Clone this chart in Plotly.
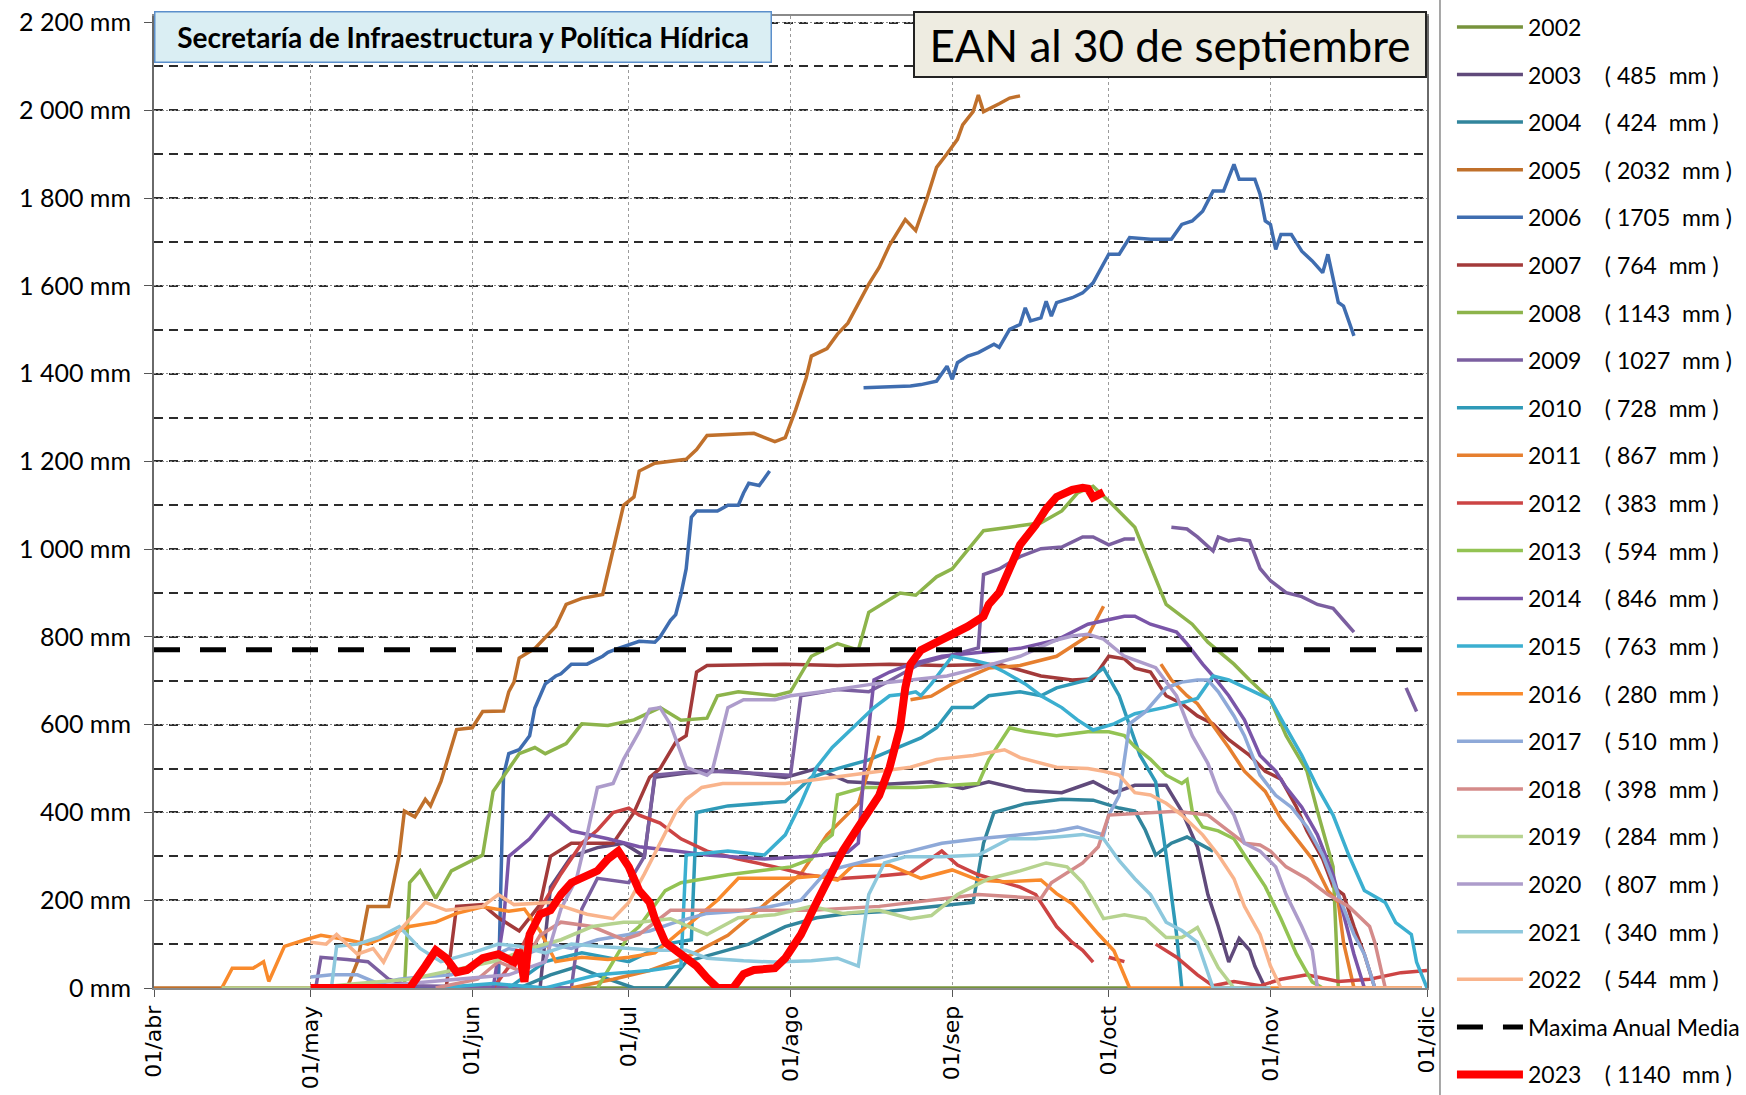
import plotly.graph_objects as go

YEAR = "2023"  # dummy year: only day/month are plotted

MONTH_TICKS = ["04-01", "05-01", "06-01", "07-01", "08-01", "09-01", "10-01", "11-01", "12-01"]
MONTH_LABELS = ["01/abr", "01/may", "01/jun", "01/jul", "01/ago", "01/sep", "01/oct", "01/nov", "01/dic"]
Y_TICKS = list(range(0, 2201, 200))
MAXIMA_MEDIA = 771

# EAN on 30 September of each year (legend values)
EAN_SEP30 = {2003: 485, 2004: 424, 2005: 2032, 2006: 1705, 2007: 764, 2008: 1143,
             2009: 1027, 2010: 728, 2011: 867, 2012: 383, 2013: 594, 2014: 846,
             2015: 763, 2016: 280, 2017: 510, 2018: 398, 2019: 284, 2020: 807,
             2021: 340, 2022: 544, 2023: 1140}

# ── series: (MM-DD, mm) ; None = gap ─────────────────────────────────────────
S2002 = [("05-01", 0), ("10-05", 0)]

S2003 = [("06-14", 0), ("06-16", 230), ("06-20", 300), ("06-25", 320), ("06-30", 330),
         ("07-04", 300), ("07-06", 480), ("07-12", 490), ("07-20", 495), ("07-31", 480),
         ("08-06", 500), ("08-12", 470), ("08-20", 465), ("08-28", 470), ("09-03", 455),
         ("09-08", 470), ("09-15", 450), ("09-22", 445), ("09-28", 470), ("10-02", 445),
         ("10-06", 462), ("10-12", 462), ("10-15", 403), ("10-18", 321), ("10-20", 213),
         ("10-22", 140), ("10-24", 59), ("10-26", 113), ("10-28", 86), ("10-29", 50),
         ("10-31", 0)]

S2004 = [("06-10", 0), ("06-16", 30), ("06-21", 48), ("06-26", 25), ("07-02", 0),
         ("07-08", 0), ("07-12", 60), ("07-18", 80), ("07-24", 100), ("07-31", 140),
         ("08-06", 160), ("08-12", 170), ("08-20", 175), ("08-28", 185), ("09-05", 195),
         ("09-07", 330), ("09-09", 400), ("09-15", 420), ("09-22", 430), ("09-28", 428),
         ("10-03", 410), ("10-06", 403), ("10-08", 360), ("10-10", 303), ("10-13", 330),
         ("10-16", 344), ("10-19", 325), ("10-21", 312)]

S2005 = [("04-01", 0), ("05-08", 0), ("05-10", 60), ("05-12", 186), ("05-16", 186),
         ("05-18", 303), ("05-19", 403), ("05-21", 390), ("05-23", 430), ("05-24", 415),
         ("05-26", 471), ("05-29", 589), ("06-01", 593), ("06-03", 630), ("06-07", 631),
         ("06-08", 675), ("06-09", 697), ("06-10", 752), ("06-13", 774), ("06-17", 824),
         ("06-19", 874), ("06-22", 888), ("06-26", 897), ("06-28", 1001), ("06-30", 1100),
         ("07-02", 1119), ("07-03", 1178), ("07-06", 1196), ("07-12", 1205), ("07-14", 1227),
         ("07-16", 1259), ("07-25", 1264), ("07-29", 1245), ("07-31", 1254), ("08-02", 1318),
         ("08-04", 1390), ("08-05", 1440), ("08-08", 1457), ("08-10", 1490), ("08-12", 1515),
         ("08-14", 1560), ("08-16", 1604), ("08-18", 1642), ("08-20", 1693), ("08-23", 1751),
         ("08-25", 1726), ("08-27", 1794), ("08-29", 1870), ("08-31", 1901), ("09-02", 1934),
         ("09-03", 1967), ("09-05", 1997), ("09-06", 2035), ("09-07", 1997), ("09-10", 2015),
         ("09-12", 2028), ("09-14", 2033)]

S2006 = [("05-01", 0), ("06-06", 0), ("06-07", 485), ("06-08", 534), ("06-10", 543),
         ("06-12", 575), ("06-13", 638), ("06-15", 693), ("06-17", 711), ("06-18", 716),
         ("06-20", 738), ("06-23", 738), ("06-26", 756), ("06-27", 765), ("06-29", 774),
         ("07-01", 783), ("07-03", 790), ("07-06", 788), ("07-07", 800), ("07-09", 838),
         ("07-10", 851), ("07-11", 897), ("07-12", 955), ("07-13", 1073), ("07-14", 1087),
         ("07-18", 1087), ("07-20", 1100), ("07-22", 1100), ("07-23", 1128), ("07-24", 1150),
         ("07-26", 1145), ("07-28", 1178), ("08-05", None),
         ("08-15", 1368), ("08-20", 1370), ("08-24", 1372), ("08-26", 1375), ("08-29", 1383),
         ("08-31", 1417), ("09-01", 1387), ("09-02", 1425), ("09-04", 1440), ("09-06", 1448),
         ("09-09", 1467), ("09-10", 1460), ("09-12", 1501), ("09-14", 1512), ("09-15", 1550),
         ("09-16", 1520), ("09-18", 1527), ("09-19", 1565), ("09-20", 1531), ("09-21", 1562),
         ("09-24", 1573), ("09-26", 1584), ("09-28", 1607), ("10-01", 1672), ("10-03", 1672),
         ("10-05", 1710), ("10-09", 1706), ("10-13", 1706), ("10-15", 1740), ("10-17", 1748),
         ("10-19", 1770), ("10-21", 1816), ("10-23", 1816), ("10-25", 1877), ("10-26", 1843),
         ("10-29", 1843), ("10-30", 1809), ("10-31", 1748), ("11-01", 1740), ("11-02", 1683),
         ("11-03", 1717), ("11-05", 1717), ("11-07", 1679), ("11-09", 1657), ("11-11", 1630),
         ("11-12", 1672), ("11-14", 1562), ("11-15", 1554), ("11-17", 1486)]

S2007 = [("05-27", 0), ("05-29", 186), ("06-03", 190), ("06-06", 160), ("06-10", 130),
         ("06-14", 190), ("06-16", 300), ("06-20", 330), ("06-28", 330), ("07-02", 400),
         ("07-05", 480), ("07-07", 500), ("07-10", 560), ("07-12", 575), ("07-14", 720),
         ("07-16", 735), ("07-31", 738), ("08-10", 735), ("08-20", 738), ("08-30", 735),
         ("09-10", 738), ("09-18", 711), ("09-24", 702), ("09-28", 705), ("10-01", 756),
         ("10-04", 750), ("10-06", 729), ("10-09", 720), ("10-12", 666), ("10-15", 648),
         ("10-18", 620), ("10-21", 602), ("10-24", 566), ("10-28", 530), ("10-31", 494),
         ("11-03", 476), ("11-06", 412), ("11-08", 358), ("11-11", 294), ("11-13", 231),
         ("11-15", 213), ("11-17", 140), ("11-19", 77), ("11-21", 0)]

S2008 = [("05-19", 0), ("05-20", 240), ("05-22", 267), ("05-25", 204), ("05-28", 267),
         ("06-03", 303), ("06-05", 448), ("06-10", 534), ("06-13", 548), ("06-15", 534),
         ("06-19", 557), ("06-22", 602), ("06-27", 598), ("07-02", 611), ("07-07", 639),
         ("07-11", 610), ("07-16", 615), ("07-18", 666), ("07-22", 675), ("07-29", 666),
         ("08-01", 675), ("08-05", 756), ("08-10", 785), ("08-14", 770), ("08-16", 856),
         ("08-22", 900), ("08-25", 895), ("08-29", 937), ("09-01", 955), ("09-06", 1028),
         ("09-07", 1042), ("09-12", 1050), ("09-18", 1060), ("09-22", 1087), ("09-25", 1128),
         ("09-28", 1143), ("10-01", 1110), ("10-06", 1050), ("10-09", 960), ("10-12", 874),
         ("10-17", 829), ("10-20", 788), ("10-25", 738), ("10-28", 702), ("11-01", 657),
         ("11-04", 575), ("11-08", 494), ("11-10", 403), ("11-13", 276), ("11-14", 0),
         ("11-30", 0)]

S2009 = [("05-02", 0), ("05-03", 70), ("05-08", 65), ("05-12", 60), ("05-16", 20),
         ("05-20", 5), ("06-20", 0), ("06-22", 180), ("06-25", 250), ("07-01", 240),
         ("07-04", 300), ("07-06", 485), ("07-15", 495), ("07-25", 490), ("08-01", 485),
         ("08-03", 666), ("08-10", 680), ("08-16", 675), ("08-20", 700), ("08-26", 740),
         ("09-01", 760), ("09-06", 775), ("09-07", 942), ("09-10", 955), ("09-14", 983),
         ("09-18", 1001), ("09-22", 1005), ("09-26", 1028), ("09-28", 1028), ("10-01", 1010),
         ("10-04", 1023), ("10-06", 1023), ("10-09", None),
         ("10-13", 1050), ("10-16", 1046), ("10-18", 1028), ("10-21", 996), ("10-22", 1028),
         ("10-24", 1019), ("10-26", 1023), ("10-28", 1019), ("10-30", 956), ("11-01", 928),
         ("11-04", 901), ("11-07", 892), ("11-10", 874), ("11-13", 865), ("11-15", 838),
         ("11-17", 811), ("11-22", None), ("11-27", 684), ("11-29", 630)]

S2010 = [("06-08", 0), ("06-15", 60), ("06-22", 80), ("07-01", 60), ("07-08", 100),
         ("07-13", 110), ("07-14", 400), ("07-20", 415), ("07-31", 425), ("08-05", 480),
         ("08-10", 500), ("08-16", 520), ("08-22", 550), ("08-26", 570), ("08-29", 593),
         ("09-01", 639), ("09-05", 639), ("09-08", 666), ("09-14", 675), ("09-18", 666),
         ("09-21", 684), ("09-24", 693), ("09-27", 702), ("09-30", 729), ("10-03", 666),
         ("10-07", 530), ("10-10", 470), ("10-12", 303), ("10-14", 122), ("10-15", 0)]

S2011 = [("06-20", 0), ("06-28", 20), ("07-05", 40), ("07-12", 70), ("07-20", 120),
         ("07-28", 200), ("08-03", 260), ("08-08", 349), ("08-14", 420), ("08-18", 575),
         ("08-21", None), ("08-24", 657), ("08-28", 665), ("09-01", 693), ("09-08", 729),
         ("09-14", 735), ("09-21", 756), ("09-27", 802), ("09-30", 870), ("10-05", None),
         ("10-11", 738), ("10-13", 702), ("10-16", 666), ("10-18", 648), ("10-24", 548),
         ("10-27", 494), ("10-31", 448), ("11-03", 385), ("11-06", 340), ("11-09", 294),
         ("11-12", 222), ("11-14", 195), ("11-15", 104), ("11-17", 0)]

S2012 = [("06-05", 0), ("06-10", 80), ("06-14", 180), ("06-18", 260), ("06-22", 330),
         ("06-25", 360), ("06-28", 400), ("07-01", 410), ("07-03", 394), ("07-07", 376),
         ("07-11", 340), ("07-16", 312), ("07-22", 294), ("07-29", 276), ("08-04", 258),
         ("08-10", 249), ("08-18", 255), ("08-24", 262), ("08-30", 312), ("09-02", 280),
         ("09-06", 258), ("09-11", 240), ("09-14", 230), ("09-17", 213), ("09-21", 140),
         ("09-24", 104), ("09-26", 86), ("09-28", 59), ("09-29", None), ("10-01", 70),
         ("10-04", 60), ("10-06", None), ("10-10", 100), ("10-14", 70), ("10-18", 30),
         ("10-21", 5), ("10-25", 15), ("10-30", 5), ("11-03", 20), ("11-08", 30),
         ("11-14", 15), ("11-20", 20), ("11-26", 35), ("12-01", 40)]

S2013 = [("06-25", 0), ("06-28", 60), ("07-01", 120), ("07-03", 140), ("07-08", 222),
         ("07-11", 240), ("07-20", 258), ("08-01", 276), ("08-05", 294), ("08-07", 330),
         ("08-09", 349), ("08-10", 440), ("08-15", 457), ("08-25", 457), ("09-06", 466),
         ("09-08", 520), ("09-12", 593), ("09-15", 585), ("09-21", 575), ("09-27", 584),
         ("10-01", 584), ("10-04", 575), ("10-06", 550), ("10-09", 521), ("10-12", 485),
         ("10-15", 466), ("10-16", 475), ("10-17", 403), ("10-19", 367), ("10-22", 358),
         ("10-25", 340), ("10-27", 303), ("10-31", 231), ("11-03", 158), ("11-06", 77),
         ("11-09", 14), ("11-11", 0)]

S2014 = [("06-05", 0), ("06-07", 150), ("06-08", 300), ("06-12", 340), ("06-16", 398),
         ("06-20", 358), ("06-27", 340), ("07-03", 322), ("07-10", 312), ("07-16", 303),
         ("07-27", 294), ("08-05", 300), ("08-12", 310), ("08-14", 330), ("08-15", 480),
         ("08-17", 702), ("08-20", 720), ("08-24", 738), ("08-30", 756), ("09-07", 765),
         ("09-14", 774), ("09-21", 793), ("09-27", 829), ("10-02", 842), ("10-04", 847),
         ("10-06", 847), ("10-09", 829), ("10-14", 811), ("10-16", 784), ("10-19", 738),
         ("10-21", 711), ("10-24", 666), ("10-27", 611), ("10-30", 530), ("11-02", 494),
         ("11-04", 457), ("11-07", 412), ("11-10", 349), ("11-13", 258), ("11-15", 168),
         ("11-17", 77), ("11-19", 0)]

S2015 = [("05-25", 0), ("06-05", 10), ("06-15", 0), ("06-25", 30), ("07-05", 40),
         ("07-11", 50), ("07-12", 303), ("07-20", 312), ("07-27", 303), ("07-31", 349),
         ("08-03", 421), ("08-06", 503), ("08-09", 548), ("08-13", 593), ("08-17", 639),
         ("08-20", 666), ("08-23", 670), ("08-25", 675), ("08-26", 666), ("08-28", 693),
         ("09-01", 756), ("09-05", 747), ("09-08", 738), ("09-11", 720), ("09-15", 693),
         ("09-18", 666), ("09-22", 639), ("09-25", 611), ("09-28", 588), ("10-02", 602),
         ("10-06", 625), ("10-12", 640), ("10-18", 660), ("10-21", 711), ("10-24", 702),
         ("10-28", 680), ("11-01", 657), ("11-04", 593), ("11-07", 530), ("11-10", 457),
         ("11-13", 394), ("11-16", 303), ("11-19", 222), ("11-23", 195), ("11-25", 149),
         ("11-28", 122), ("11-29", 59), ("12-01", 0)]

S2016 = [("04-14", 0), ("04-16", 45), ("04-20", 45), ("04-22", 60), ("04-23", 15),
         ("04-26", 95), ("04-30", 110), ("05-03", 120), ("05-08", 110), ("05-12", 100),
         ("05-16", 120), ("05-20", 140), ("05-25", 150), ("05-29", 170), ("06-03", 185),
         ("06-08", 175), ("06-11", 180), ("06-14", 130), ("06-17", 60), ("06-22", 70),
         ("06-27", 65), ("07-01", 70), ("07-06", 80), ("07-10", 120), ("07-14", 160),
         ("07-18", 200), ("07-22", 250), ("08-01", 250), ("08-06", 255), ("08-10", 246),
         ("08-13", 280), ("08-20", 280), ("08-26", 250), ("09-01", 269), ("09-06", 246),
         ("09-11", 242), ("09-18", 246), ("09-21", 215), ("09-24", 192), ("09-29", 123),
         ("10-02", 85), ("10-05", 0), ("11-30", 0)]

S2017 = [("05-01", 25), ("05-05", 30), ("05-10", 30), ("05-14", 10), ("05-18", 20),
         ("05-22", 25), ("05-28", 30), ("06-03", 60), ("06-08", 90), ("06-12", 80),
         ("06-16", 100), ("06-20", 90), ("06-25", 110), ("06-30", 120), ("07-05", 130),
         ("07-10", 150), ("07-16", 170), ("07-22", 175), ("07-28", 185), ("08-03", 200),
         ("08-08", 267), ("08-17", 294), ("08-24", 312), ("08-30", 330), ("09-06", 340),
         ("09-14", 349), ("09-21", 358), ("09-25", 367), ("09-30", 349), ("10-01", 394),
         ("10-03", 439), ("10-05", 602), ("10-08", 629), ("10-12", 684), ("10-15", 697),
         ("10-18", 702), ("10-20", 702), ("10-22", 675), ("10-25", 620), ("10-27", 575),
         ("10-30", 485), ("11-02", 439), ("11-05", 412), ("11-08", 367), ("11-11", 303),
         ("11-14", 213), ("11-17", 122), ("11-19", 77), ("11-21", 0)]

S2018 = [("05-25", 0), ("06-02", 20), ("06-06", 60), ("06-10", 40), ("06-14", 120),
         ("06-18", 150), ("06-24", 140), ("06-30", 110), ("07-03", 122), ("07-09", 177),
         ("07-20", 177), ("08-05", 177), ("08-18", 186), ("08-30", 204), ("09-06", 213),
         ("09-18", 204), ("09-20", 240), ("09-26", 285), ("09-29", 322), ("10-01", 394),
         ("10-08", 398), ("10-14", 403), ("10-20", 394), ("10-24", 358), ("10-27", 330),
         ("10-30", 326), ("11-01", 312), ("11-04", 276), ("11-08", 249), ("11-12", 213),
         ("11-16", 186), ("11-20", 140), ("11-21", 104), ("11-23", 0)]

S2019 = [("04-14", 0), ("05-01", 0), ("05-10", 10), ("05-20", 20), ("05-28", 40),
         ("06-05", 60), ("06-12", 90), ("06-18", 110), ("06-24", 140), ("06-30", 150),
         ("07-03", 150), ("07-09", 158), ("07-16", 122), ("07-22", 160), ("07-29", 167),
         ("08-05", 186), ("08-11", 170), ("08-18", 177), ("08-24", 158), ("08-28", 165),
         ("09-02", 213), ("09-08", 249), ("09-14", 267), ("09-19", 285), ("09-23", 276),
         ("09-26", 240), ("09-28", 200), ("09-30", 158), ("10-04", 167), ("10-08", 158),
         ("10-12", 115), ("10-15", 115), ("10-18", 138), ("10-20", 92), ("10-22", 46),
         ("10-25", 0)]

S2020 = [("05-10", 0), ("05-20", 10), ("05-30", 20), ("06-08", 30), ("06-15", 60),
         ("06-18", 180), ("06-21", 250), ("06-23", 349), ("06-25", 457), ("06-28", 466),
         ("06-30", 521), ("07-03", 584), ("07-05", 635), ("07-07", 639), ("07-09", 600),
         ("07-12", 503), ("07-16", 485), ("07-17", 495), ("07-20", 639), ("07-23", 657),
         ("07-29", 657), ("08-01", 666), ("08-07", 675), ("08-17", 693), ("08-24", 702),
         ("08-31", 711), ("09-06", 729), ("09-14", 756), ("09-21", 793), ("09-24", 802),
         ("09-27", 806), ("09-30", 795), ("10-04", 756), ("10-08", 738), ("10-10", 730),
         ("10-14", 666), ("10-17", 575), ("10-20", 512), ("10-22", 448), ("10-25", 394),
         ("10-27", 330), ("10-30", 312), ("11-02", 276), ("11-04", 213), ("11-07", 140),
         ("11-09", 86), ("11-10", 0)]

S2021 = [("05-05", 0), ("05-06", 95), ("05-10", 100), ("05-14", 115), ("05-18", 140),
         ("05-22", 90), ("05-26", 60), ("06-01", 80), ("06-06", 100), ("06-10", 95),
         ("06-15", 80), ("06-20", 100), ("06-25", 95), ("07-01", 90), ("07-06", 86),
         ("07-12", 86), ("07-16", 68), ("07-23", 62), ("07-29", 59), ("08-05", 62),
         ("08-10", 68), ("08-14", 50), ("08-16", 213), ("08-19", 285), ("08-23", 299),
         ("08-30", 299), ("09-06", 303), ("09-12", 340), ("09-17", 340), ("09-22", 345),
         ("09-26", 350), ("09-30", 340), ("10-03", 290), ("10-06", 249), ("10-09", 213),
         ("10-12", 150), ("10-15", 131), ("10-18", 104), ("10-21", 0), ("11-01", 0)]

S2022 = [("05-01", 104), ("05-04", 100), ("05-06", 122), ("05-10", 77), ("05-13", 90),
         ("05-15", 59), ("05-18", 130), ("05-21", 168), ("05-23", 195), ("05-27", 177),
         ("06-03", 186), ("06-06", 213), ("06-09", 190), ("06-16", 195), ("06-23", 168),
         ("06-28", 158), ("07-01", 195), ("07-04", 260), ("07-07", 330), ("07-10", 400),
         ("07-12", 430), ("07-15", 457), ("07-19", 466), ("07-31", 466), ("08-06", 475),
         ("08-12", 485), ("08-18", 494), ("08-24", 503), ("08-29", 521), ("09-05", 530),
         ("09-11", 543), ("09-14", 525), ("09-21", 503), ("09-27", 500), ("09-30", 494),
         ("10-03", 485), ("10-06", 445), ("10-09", 440), ("10-12", 421), ("10-15", 394),
         ("10-19", 349), ("10-22", 303), ("10-25", 249), ("10-27", 186), ("10-30", 122),
         ("11-01", 50), ("11-03", 0), ("11-30", 0)]

S2023 = [("05-01", 0), ("05-20", 0), ("05-23", 50), ("05-25", 86), ("05-27", 68),
         ("05-29", 36), ("05-31", 41), ("06-03", 68), ("06-06", 77), ("06-09", 59),
         ("06-10", 86), ("06-11", 14), ("06-12", 122), ("06-14", 168), ("06-16", 177),
         ("06-18", 213), ("06-20", 240), ("06-23", 258), ("06-25", 267), ("06-27", 294),
         ("06-29", 312), ("07-01", 276), ("07-03", 222), ("07-05", 195), ("07-06", 158),
         ("07-08", 104), ("07-11", 77), ("07-14", 50), ("07-16", 23), ("07-18", 0),
         ("07-21", 0), ("07-23", 32), ("07-25", 41), ("07-29", 45), ("07-31", 68),
         ("08-03", 122), ("08-06", 195), ("08-09", 267), ("08-11", 312), ("08-14", 367),
         ("08-18", 439), ("08-20", 503), ("08-22", 593), ("08-23", 684), ("08-24", 738),
         ("08-26", 770), ("08-29", 788), ("09-01", 802), ("09-04", 824), ("09-07", 847),
         ("09-08", 874), ("09-10", 901), ("09-12", 956), ("09-14", 1010), ("09-17", 1055),
         ("09-19", 1092), ("09-21", 1119), ("09-24", 1135), ("09-26", 1140), ("09-27", 1138),
         ("09-28", 1118), ("09-30", 1130)]

SERIES = {2002: S2002, 2003: S2003, 2004: S2004, 2005: S2005, 2006: S2006, 2007: S2007,
          2008: S2008, 2009: S2009, 2010: S2010, 2011: S2011, 2012: S2012, 2013: S2013,
          2014: S2014, 2015: S2015, 2016: S2016, 2017: S2017, 2018: S2018, 2019: S2019,
          2020: S2020, 2021: S2021, 2022: S2022}

COLORS = {
    2002: "#77933C", 2003: "#604A7B", 2004: "#31859C", 2005: "#C0702B",
    2006: "#3F6DB0", 2007: "#A33A3A", 2008: "#8DB44B", 2009: "#7B5FA0",
    2010: "#2F9AB8", 2011: "#E67F2F", 2012: "#CC4444", 2013: "#93C353",
    2014: "#7A55A8", 2015: "#3BAFD0", 2016: "#F98A2C", 2017: "#8EA9D8",
    2018: "#D48B8A", 2019: "#B6D38F", 2020: "#AD9CCB", 2021: "#8DC8DD",
    2022: "#F9B48C", 2023: "#FF0000",
}

NB = "\u00a0"


def xy(points):
    return [f"{YEAR}-{d}" for d, _ in points], [v for _, v in points]


def label(year):
    if year not in EAN_SEP30:
        return str(year)
    return f"{year}{NB*4}({NB}{EAN_SEP30[year]}{NB*2}mm{NB})"


fig = go.Figure()

for year, pts in SERIES.items():
    x, y = xy(pts)
    fig.add_trace(go.Scatter(
        x=x, y=y, mode="lines", connectgaps=False,
        line=dict(color=COLORS[year], width=3.5),
        name=label(year), legendgroup=str(year), hoverinfo="skip",
        legend="legend" if year <= 2013 else "legend2",
    ))

# maxima anual media
fig.add_trace(go.Scatter(
    x=[f"{YEAR}-04-01", f"{YEAR}-12-01"], y=[MAXIMA_MEDIA, MAXIMA_MEDIA],
    mode="lines", line=dict(color="black", width=5, dash="26px,20px"),
    name="Maxima Anual Media", legendgroup="max", hoverinfo="skip", legend="legend2",
))

x, y = xy(S2023)
fig.add_trace(go.Scatter(
    x=x, y=y, mode="lines", line=dict(color=COLORS[2023], width=8),
    name=label(2023), legendgroup="2023", hoverinfo="skip", legend="legend2",
))

ytext = [f"{v:,}".replace(",", " ") + " mm" for v in Y_TICKS]

# two legends (the list is taller than one legend box allows)
legend_style = dict(
    x=1.0196, xanchor="left",
    font=dict(family="Lato", size=23, color="black"),
    traceorder="grouped", tracegroupgap=14.7, itemwidth=66,
    bgcolor="rgba(0,0,0,0)",
)

fig.update_layout(
    width=1746, height=1095,
    margin=dict(l=154, r=319, t=16, b=107, autoexpand=False),
    paper_bgcolor="white", plot_bgcolor="white",
    font=dict(family="Lato, sans-serif", color="black"),
    showlegend=True,
    legend=dict(legend_style, y=0.4275, yanchor="bottom"),
    legend2=dict(legend_style, y=0.4228, yanchor="top"),
    xaxis=dict(
        type="date", automargin=False,
        range=[f"{YEAR}-04-01", f"{YEAR}-12-01"],
        tickvals=[f"{YEAR}-{m}" for m in MONTH_TICKS], ticktext=MONTH_LABELS,
        tickangle=-90, tickfont=dict(family="DejaVu Sans", size=22, color="black"),
        ticks="outside", ticklen=7, tickcolor="#555",
        showgrid=True, gridcolor="#9a9a9a", gridwidth=1, griddash="3px,3px",
        showline=True, linecolor="#8a8a8a", linewidth=2, mirror=True,
        zeroline=False,
    ),
    yaxis=dict(
        range=[0, 2215], automargin=False,
        tickvals=Y_TICKS, ticktext=ytext,
        tickfont=dict(family="Lato", size=25, color="black"),
        ticks="outside", ticklen=8, tickcolor="#555", ticklabelstandoff=8,
        showgrid=True, gridcolor="#8a8a8a", gridwidth=1, griddash="2px,2px",
        minor=dict(dtick=100, tick0=0, showgrid=True, gridcolor="#2b2b2b",
                   gridwidth=1.7, griddash="9px,6px", ticks=""),
        showline=True, linecolor="#6a6a6a", linewidth=2, mirror=True,
        zeroline=False,
    ),
)

# legend divider
fig.add_shape(type="line", xref="paper", yref="paper",
              x0=1.0102, x1=1.0102, y0=-0.11, y1=1.017,
              line=dict(color="#8a8a8a", width=1.5))

fig.add_annotation(
    xref="paper", yref="paper", x=0, y=1.005, xanchor="left", yanchor="top",
    text="<b>Secretaría de Infraestructura y Política Hídrica</b>",
    showarrow=False, width=613, height=47, align="center",
    font=dict(family="Lato", size=28, color="black"),
    bgcolor="#DAEEF3", bordercolor="#5B8FCB", borderwidth=1.5, borderpad=1,
)
fig.add_annotation(
    xref="paper", yref="paper", x=1.0, y=1.005, xanchor="right", yanchor="top",
    text="EAN al 30 de septiembre",
    showarrow=False, width=508, height=61, align="center",
    font=dict(family="Lato", size=44, color="black"),
    bgcolor="#EEECE1", bordercolor="#222222", borderwidth=2, borderpad=1,
)

fig.write_html("out.html", config={"displayModeBar": False},
               post_script="document.body.style.margin='0';")
